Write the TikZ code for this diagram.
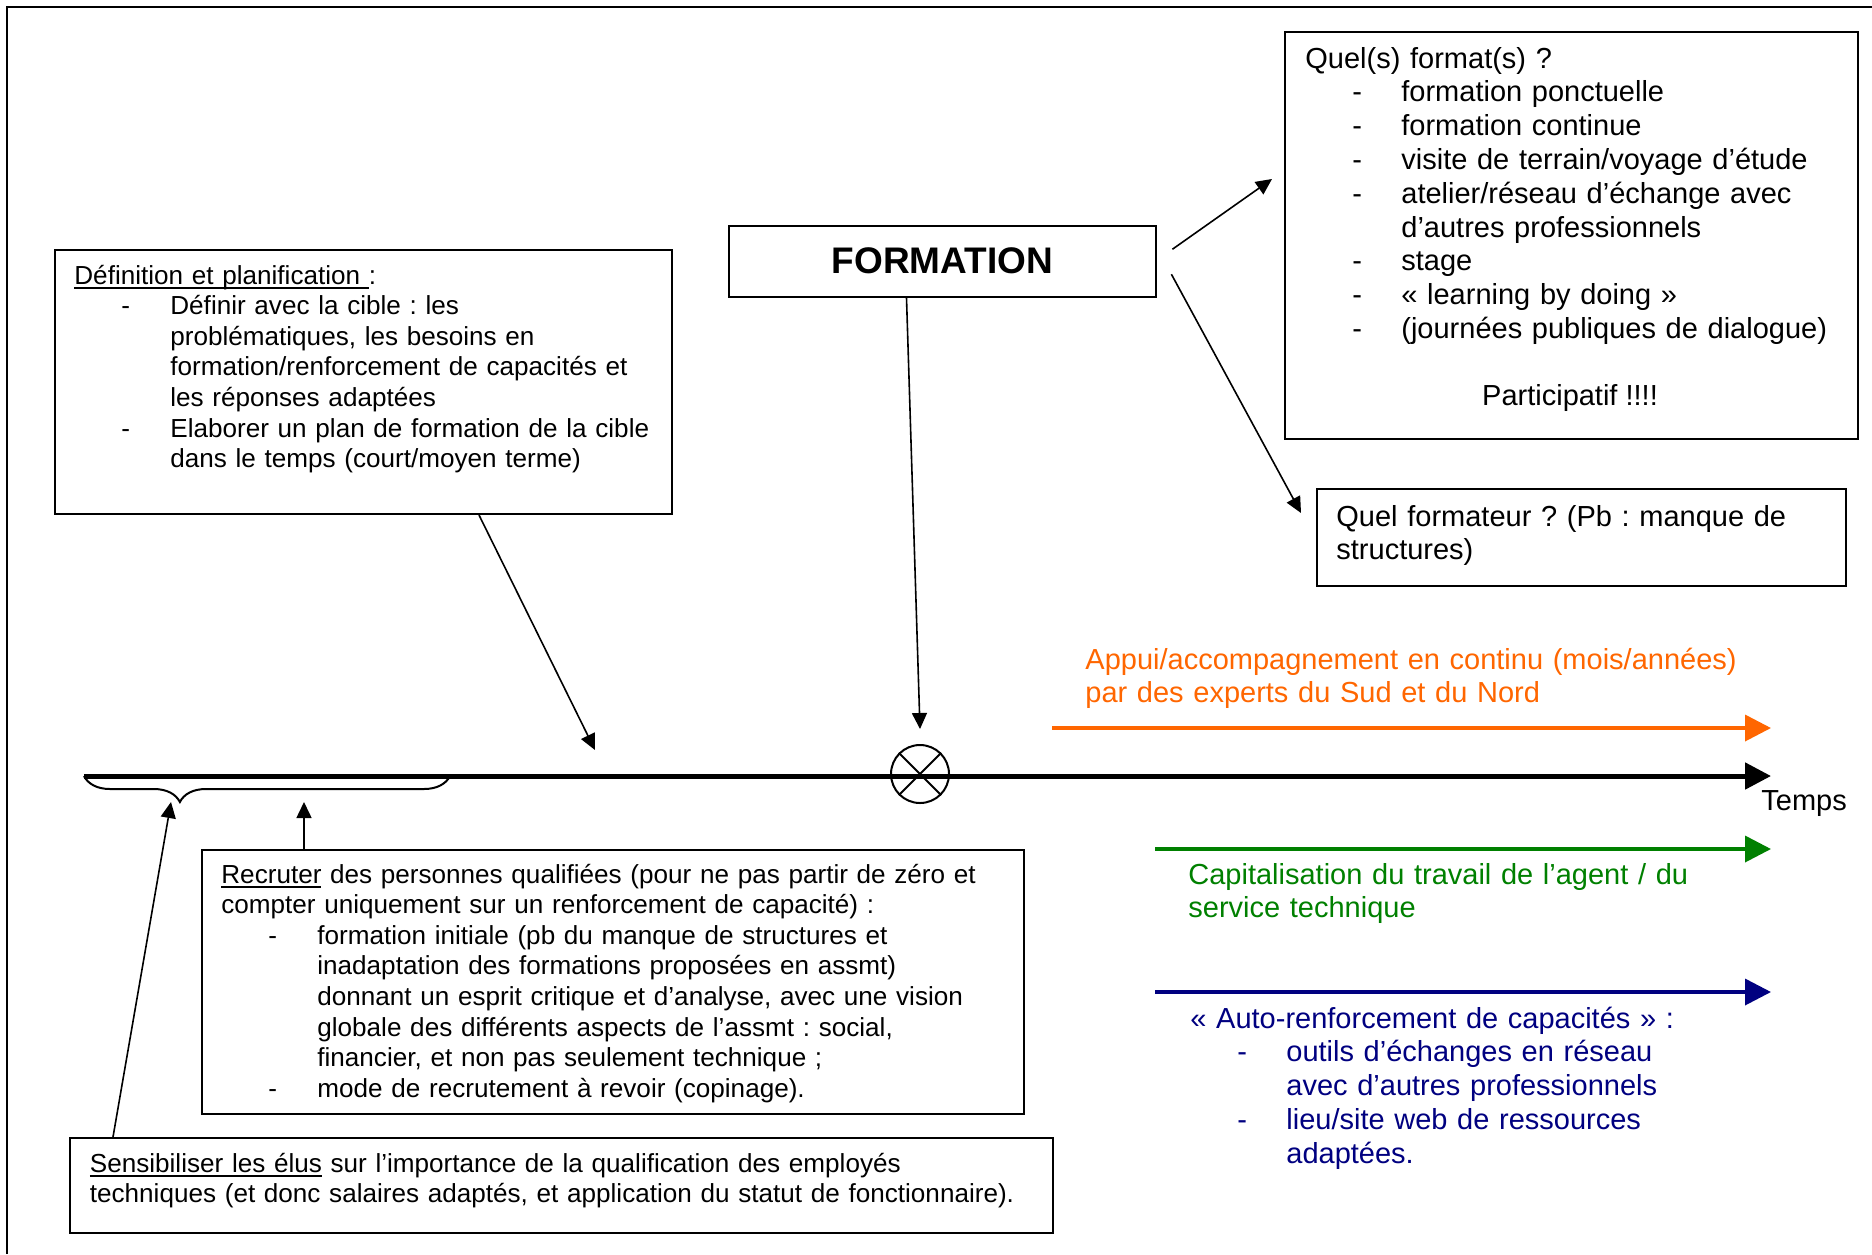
\documentclass[tikz,border=0pt]{standalone}
\usepackage{fontspec}
\setmainfont{Liberation Sans}
\usetikzlibrary{arrows.meta,decorations.pathreplacing}
\definecolor{orangeappui}{RGB}{255,102,0}
\definecolor{vertcapi}{RGB}{0,128,0}
\definecolor{bleuauto}{RGB}{0,0,128}
\frenchspacing
\newcommand{\tiret}{\leavevmode\hbox to 48pt{\hspace*{23.5pt}-\hfil}}
\newcommand{\retrait}{\leavevmode\hspace*{48pt}}
\newcommand{\souligne}[1]{\leavevmode\setbox0\hbox{#1}\rlap{\vrule height -1.6pt depth 2.4pt width \wd0}\box0\relax}

\begin{document}
\begin{tikzpicture}[x=0.5pt,y=-0.5pt,
  cadre/.style={draw, line width=1pt, anchor=north west, inner sep=0pt},
  petit/.style={anchor=base west, inner sep=0pt, text width=520pt, align=left, font=\fontsize{13.05}{15.3}\selectfont},
  grand/.style={anchor=base west, inner sep=0pt, text width=400pt, align=left, font=\fontsize{14.5}{16.9}\selectfont},
  fleche/.style={line width=0.8pt, -{Triangle[length=8pt,width=7.5pt]}},
  axe/.style={line width=2.5pt, -{Triangle[length=13pt,width=13pt]}},
  axecoul/.style={line width=1.8pt, -{Triangle[length=13pt,width=13pt]}}]
\useasboundingbox (0,0) rectangle (1872,1254);
\draw[line width=1pt] (7,1254) -- (7,7) -- (1872,7);

% les cadres
\node[cadre, minimum width=308.5pt, minimum height=132pt] (def) at (54,249) {};
\node[cadre, minimum width=213.5pt, minimum height=35.75pt, font=\fontsize{18.5}{22}\selectfont\bfseries] (forma) at (728,224.5) {FORMATION};
\node[cadre, minimum width=286.5pt, minimum height=203.5pt] (fmt) at (1283.5,31) {};
\node[cadre, minimum width=264.5pt, minimum height=48.5pt] (fmtr) at (1316,488) {};
\node[cadre, minimum width=411pt, minimum height=132pt] (recr) at (200.6,849) {};
\node[cadre, minimum width=491.5pt, minimum height=47.5pt] (sens) at (69,1137) {};

% les textes
\node[petit] (deftxt) at (74,284) {\souligne{Définition et planification }:\\
  \tiret Définir avec la cible : les\\
  \retrait problématiques, les besoins en\\
  \retrait formation/renforcement de capacités et\\
  \retrait les réponses adaptées\\
  \tiret Elaborer un plan de formation de la cible\\
  \retrait dans le temps (court/moyen terme)};
\node[grand] (fmttxt) at (1305,68) {Quel(s) format(s) ?\\
  \tiret formation ponctuelle\\
  \tiret formation continue\\
  \tiret visite de terrain/voyage d’étude\\
  \tiret atelier/réseau d’échange avec\\
  \retrait d’autres professionnels\\
  \tiret stage\\
  \tiret « learning by doing »\\
  \tiret (journées publiques de dialogue)};
\node[anchor=base, inner sep=0pt, font=\fontsize{14.5}{16.9}\selectfont] (partic) at (1570,405) {Participatif !!!!};
\node[grand] (fmtrtxt) at (1336,526) {Quel formateur ? (Pb : manque de\\ structures)};
\node[petit] (recrtxt) at (221,883) {\souligne{Recruter} des personnes qualifiées (pour ne pas partir de zéro et\\
  compter uniquement sur un renforcement de capacité) :\\
  \tiret formation initiale (pb du manque de structures et\\
  \retrait inadaptation des formations proposées en assmt)\\
  \retrait donnant un esprit critique et d’analyse, avec une vision\\
  \retrait globale des différents aspects de l’assmt : social,\\
  \retrait financier, et non pas seulement technique ;\\
  \tiret mode de recrutement à revoir (copinage).};
\node[petit] (senstxt) at (89.5,1172) {\souligne{Sensibiliser les élus} sur l’importance de la qualification des employés\\
  techniques (et donc salaires adaptés, et application du statut de fonctionnaire).};
\node[grand, text=orangeappui] (appui) at (1085,669) {Appui/accompagnement en continu (mois/années)\\ par des experts du Sud et du Nord};
\node[grand, text=vertcapi] (capi) at (1188,884) {Capitalisation du travail de l’agent / du\\ service technique};
\node[grand, text=bleuauto] (auto) at (1190,1028) {« Auto-renforcement de capacités » :\\
  \tiret outils d’échanges en réseau\\
  \retrait avec d’autres professionnels\\
  \tiret lieu/site web de ressources\\
  \retrait adaptées.};
\node[grand] (temps) at (1761,810) {Temps};

% axe du temps
\coordinate (t0) at (84,776);
\coordinate (t1) at (1771,776);
\draw[axe] (t0) -- (t1);
\coordinate (b1) at (450,776);
\draw[line width=1pt, decorate, decoration={brace, mirror, amplitude=13pt, aspect=0.262}] (t0) -- (b1);
\node[circle, draw, line width=1pt, minimum size=29pt, inner sep=0pt] (croix) at (920,774) {};
\draw[line width=1pt] (croix.north west) -- (croix.south east);
\draw[line width=1pt] (croix.north east) -- (croix.south west);

\coordinate (o0) at (1052,728);
\coordinate (o1) at (1771,728);
\coordinate (v0) at (1155,849);
\coordinate (v1) at (1771,849);
\coordinate (a0) at (1155,992);
\coordinate (a1) at (1771,992);
\draw[axecoul, orangeappui] (o0) -- (o1);
\draw[axecoul, vertcapi] (v0) -- (v1);
\draw[axecoul, bleuauto] (a0) -- (a1);

% les fleches
\coordinate (pdef) at (595,750);
\coordinate (pfmt) at (1272,179);
\coordinate (pfmtr) at (1301,513);
\coordinate (precr) at (304,802);
\coordinate (pbrace) at (171,802);
\draw[fleche] ([xshift=212.5pt]def.south west) -- (pdef);
\draw[fleche] ([xshift=-18pt]forma.south) -- ([yshift=7.5pt]croix.north);
\draw[fleche] ([xshift=7.7pt,yshift=6pt]forma.east) -- (pfmt);
\draw[fleche] ([xshift=7.2pt,yshift=-6.5pt]forma.east) -- (pfmtr);
\draw[fleche] ([xshift=51.7pt]recr.north west) -- (precr);
\draw[fleche] ([xshift=22pt]sens.north west) -- (pbrace);
\end{tikzpicture}
\end{document}
